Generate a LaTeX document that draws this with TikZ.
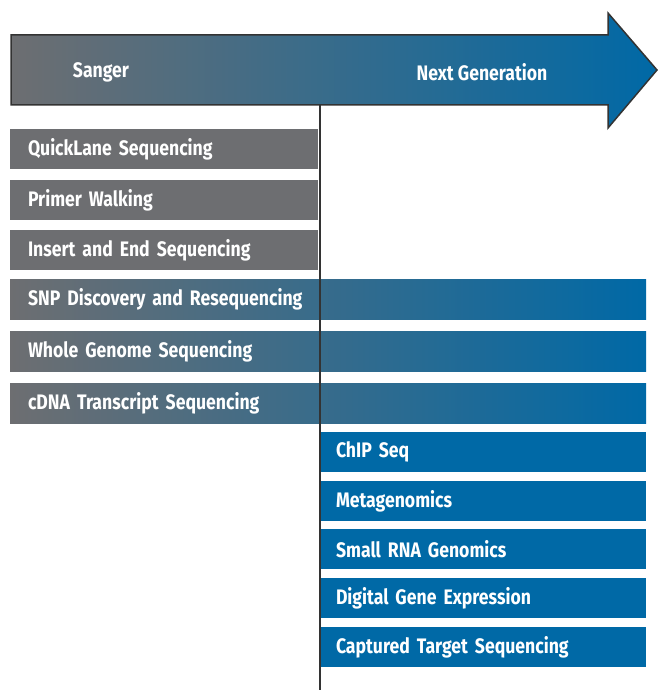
\documentclass[tikz,border=0pt]{standalone}
\usepackage{fontspec}
\newfontfamily\barfont{Fira Sans}[FakeStretch=0.84]
\usetikzlibrary{positioning}
\definecolor{sangerGray}{HTML}{6D6E71}
\definecolor{ngsBlue}{HTML}{0069A6}
\definecolor{edgeGray}{HTML}{333333}
\tikzset{
  barText/.style={font={\barfont\bfseries\fontsize{21}{23}\selectfont}, text=white, align=left, anchor=north west, minimum height=40pt, inner ysep=0pt, outer sep=0pt},
  sangerBar/.style={barText, fill=sangerGray, text width=272pt, inner xsep=18pt},
  bothBar/.style={barText, left color=sangerGray, right color=ngsBlue, text width=600pt, inner xsep=18pt},
  ngsBar/.style={barText, fill=ngsBlue, text width=295pt, inner xsep=15pt},
  arrowText/.style={font={\barfont\bfseries\fontsize{21}{23}\selectfont}, text=white}
}
\begin{document}
\begin{tikzpicture}[x=1pt, y=-1pt]
		\useasboundingbox (0,0) rectangle (659,690);

		% draw time arrow
		\draw[line width=1.5pt, draw=edgeGray, left color=sangerGray, right color=ngsBlue] (11,35) -- (608,35) -- (608,13) -- (657,70) -- (608,128) -- (608,105) -- (11,105) -- cycle;
		\node[arrowText](sanger) at (101,72){Sanger};
		\node[arrowText](nextGen) at (482,72){Next Generation};

		% draw sanger bars
		\node[sangerBar](quickLane) at (10,129){QuickLane Sequencing};
		\node[sangerBar](primerWalk) at (10,180){Primer Walking};
		\node[sangerBar](insertEnd) at (10,230){Insert and End Sequencing};

		% draw shared bars
		\node[bothBar](snp) at (10,279){SNP Discovery and Resequencing};
		\node[bothBar](wholeGenome) at (10,331){Whole Genome Sequencing};
		\node[bothBar](cdna) at (10,383){cDNA Transcript Sequencing};

		% draw next generation bars
		\node[ngsBar](chip) at (321,432){ChIP Seq};
		\node[ngsBar](metaGen) at (321,481){Metagenomics};
		\node[ngsBar](smallRna) at (321,529){Small RNA Genomics};
		\node[ngsBar](digitalGene) at (321,578){Digital Gene Expression};
		\node[ngsBar](captured) at (321,627){Captured Target Sequencing};

		% draw divider
		\coordinate (divTop) at (320,105);
		\coordinate (divBottom) at (320,690);
		\draw[line width=1.5pt, draw=edgeGray] (divTop) -- (divBottom);

	\end{tikzpicture}
\end{document}
